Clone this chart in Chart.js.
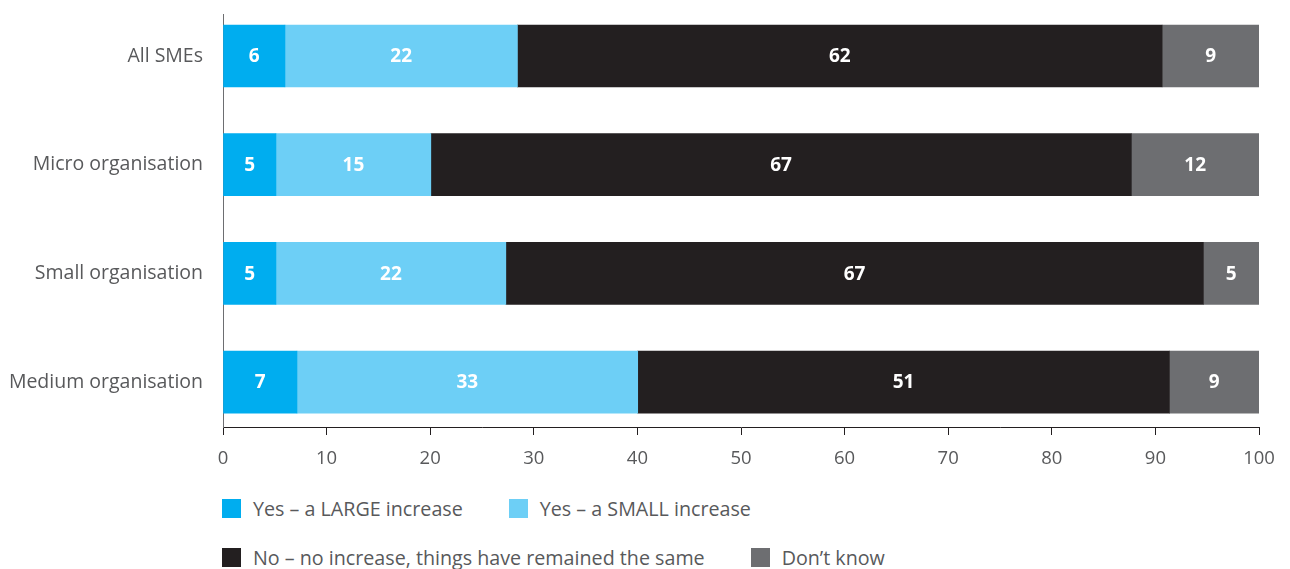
<!DOCTYPE html>
<html>
<head>
<meta charset="utf-8">
<script src="https://cdn.jsdelivr.net/npm/chart.js@4/dist/chart.umd.min.js"></script>
<style>
  html, body { margin: 0; padding: 0; background: #fff; }
  #wrap { position: relative; width: 1290px; height: 569px; overflow: hidden; }
  #chart-box { position: absolute; left: 0; top: 0; width: 1290px; height: 480px; }
  #legend {
    position: absolute; left: 222px; top: 497px; width: 780px;
    display: flex; flex-wrap: wrap; row-gap: 27px;
    font-family: "Open Sans", "Noto Sans", sans-serif; font-size: 19.7px; color: #58595b;
  }
  .item { display: flex; align-items: center; height: 22px; margin-right: 46px; white-space: nowrap; }
  .swatch { width: 19px; height: 19px; margin-right: 12px; }
</style>
</head>
<body>
<div id="wrap">
  <div id="chart-box"><canvas id="chart"></canvas></div>
  <div id="legend"></div>
</div>
<script>
// Values (bar widths) and the printed figures
const categories = ['All SMEs', 'Micro organisation', 'Small organisation', 'Medium organisation'];
const seriesNames = ['Yes \u2013 a LARGE increase', 'Yes \u2013 a SMALL increase',
  'No \u2013 no increase, things have remained the same', 'Don\u2019t know'];
const largeIncrease = [5.98, 5.11, 5.11, 7.14];
const smallIncrease = [22.44, 14.95, 22.19, 32.89];
const noIncrease = [62.23, 67.62, 67.33, 51.32];
const dontKnow = [9.35, 12.32, 5.37, 8.65];
// printed labels
const largeLabels = [6, 5, 5, 7];
const smallLabels = [22, 15, 22, 33];
const noLabels = [62, 67, 67, 51];
const dontKnowLabels = [9, 12, 5, 9];
const xTicks = [0, 10, 20, 30, 40, 50, 60, 70, 80, 90, 100];

const colors = ['#00adef', '#6dcff6', '#231f20', '#6d6e71'];
const FONT = '"Open Sans", "Noto Sans", sans-serif';

const valueLabels = {
    id: 'valueLabels',
    afterDatasetsDraw(chart) {
        const ctx = chart.ctx;
        ctx.save();
        ctx.fillStyle = '#fff';
        ctx.font = `bold 19px ${FONT}`;
        ctx.textAlign = 'center';
        ctx.textBaseline = 'middle';
        chart.data.datasets.forEach((ds, i) => {
            chart.getDatasetMeta(i).data.forEach((bar, j) => {
                const p = bar.getCenterPoint();
                ctx.fillText(String(ds.printed[j]), p.x, p.y + 1);
            });
        });
        ctx.restore();
    }
};

const chart = new Chart(document.getElementById('chart'), {
    type: 'bar',
    data: {
        // numeric positions on the y axis, named through the tick callback
        labels: categories.map((_, i) => i),
        datasets: [
            { label: seriesNames[0], data: largeIncrease, printed: largeLabels, backgroundColor: colors[0] },
            { label: seriesNames[1], data: smallIncrease, printed: smallLabels, backgroundColor: colors[1] },
            { label: seriesNames[2], data: noIncrease, printed: noLabels, backgroundColor: colors[2] },
            { label: seriesNames[3], data: dontKnow, printed: dontKnowLabels, backgroundColor: colors[3] }
        ]
    },
    options: {
        indexAxis: 'y',
        responsive: true,
        maintainAspectRatio: false,
        animation: false,
        barThickness: 62,
        layout: { padding: { top: 14, right: 31, left: 0, bottom: 0 } },
        plugins: { legend: { display: false }, tooltip: { enabled: false } },
        scales: {
            x: {
                stacked: true,
                min: 0, max: 100,
                afterBuildTicks: (s) => { s.ticks = xTicks.map(v => ({ value: v })); },
                afterFit: (s) => { s.height = 53; },
                grid: { drawOnChartArea: false, tickLength: 8, color: '#231f20', tickColor: '#231f20' },
                border: { color: '#231f20', width: 1 },
                ticks: { color: '#58595b', font: { family: FONT, size: 18.5 }, padding: 13, maxRotation: 0 }
            },
            y: {
                type: 'linear',
                stacked: true,
                reverse: true,
                offset: false,
                min: -0.3865, max: 3.4135,
                afterBuildTicks: (s) => { s.ticks = categories.map((_, i) => ({ value: i })); },
                afterFit: (s) => { s.width = 223; s.paddingTop = 0; s.paddingBottom = 0; },
                grid: { display: false, drawTicks: false, offset: false },
                border: { color: '#6d6e71', width: 1 },
                ticks: {
                    color: '#58595b', font: { family: FONT, size: 19.5 }, padding: 20,
                    callback: (v) => categories[v]
                }
            }
        }
    },
    plugins: [valueLabels]
});

// legend built from the chart's datasets
const legend = document.getElementById('legend');
chart.data.datasets.forEach(ds => {
    const item = document.createElement('div');
    item.className = 'item';
    const sw = document.createElement('span');
    sw.className = 'swatch';
    sw.style.background = ds.backgroundColor;
    const txt = document.createElement('span');
    txt.textContent = ds.label;
    item.appendChild(sw);
    item.appendChild(txt);
    legend.appendChild(item);
});
</script>
</body>
</html>
